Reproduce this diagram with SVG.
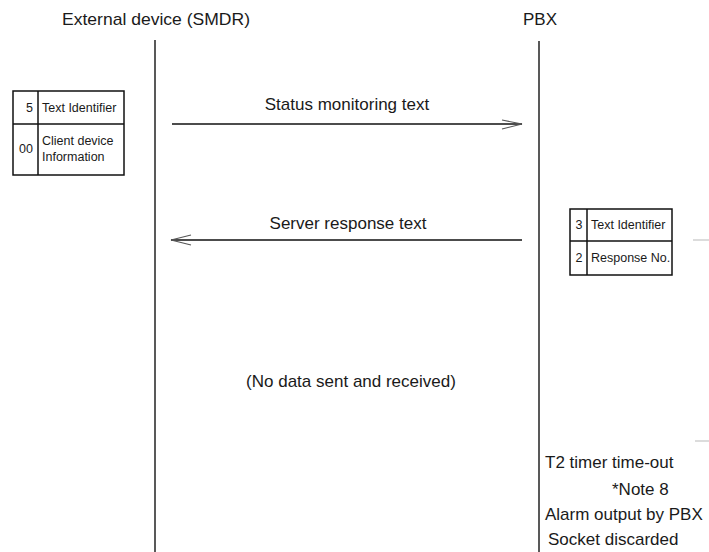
<svg xmlns="http://www.w3.org/2000/svg" width="709" height="552" viewBox="0 0 709 552">
  <style>
    text { font-family: "Liberation Sans", Arial, sans-serif; fill: #1a1a1a; }
    .head { font-size: 17px; }
    .lbl { font-size: 17px; }
    .cell { font-size: 12.5px; }
    .life { stroke: #222; stroke-width: 1.5; fill: none; }
    .msg { stroke: #111; stroke-width: 1.3; fill: none; }
    .tip { stroke: #555; stroke-width: 1.1; fill: none; }
    .box { stroke: #111; stroke-width: 1.5; fill: #fff; }
    .rule { stroke: #111; stroke-width: 1.5; }
    .tick { stroke: #d0d0d0; stroke-width: 1.5; }
  </style>

  <!-- participants -->
  <g id="external-device">
    <text class="head" x="156" y="25" text-anchor="middle" textLength="188" lengthAdjust="spacingAndGlyphs">External device (SMDR)</text>
    <line class="life" x1="155" y1="40" x2="155" y2="552"/>
  </g>
  <g id="pbx">
    <text class="head" x="540" y="25" text-anchor="middle">PBX</text>
    <line class="life" x1="539" y1="41" x2="539" y2="552"/>
  </g>

  <!-- field table sent with the status monitoring text -->
  <g id="client-fields">
    <rect class="box" x="13" y="91" width="111" height="84"/>
    <line class="rule" x1="38" y1="91" x2="38" y2="175"/>
    <line class="rule" x1="13" y1="124" x2="124" y2="124"/>
    <text class="cell" x="33" y="112" text-anchor="end">5</text>
    <text class="cell" x="42" y="112">Text Identifier</text>
    <text class="cell" x="33" y="153" text-anchor="end">00</text>
    <text class="cell" x="42" y="145">Client device</text>
    <text class="cell" x="42" y="161">Information</text>
  </g>

  <!-- field table returned with the server response text -->
  <g id="response-fields">
    <rect class="box" x="570" y="209" width="102" height="66"/>
    <line class="rule" x1="587" y1="209" x2="587" y2="275"/>
    <line class="rule" x1="570" y1="241" x2="672" y2="241"/>
    <text class="cell" x="579" y="229" text-anchor="middle">3</text>
    <text class="cell" x="591" y="229">Text Identifier</text>
    <text class="cell" x="579" y="262" text-anchor="middle">2</text>
    <text class="cell" x="591" y="262">Response No.</text>
  </g>

  <!-- messages -->
  <g id="connectors">
    <g id="status-monitoring">
      <line class="msg" x1="172" y1="124" x2="522" y2="124"/>
      <polyline class="tip" points="502,120 522,124 502,129"/>
    </g>
    <g id="server-response">
      <line class="msg" x1="171" y1="240" x2="522" y2="240"/>
      <polyline class="tip" points="191,235 171,240 191,245"/>
    </g>
  </g>

  <g id="message-labels">
    <text class="lbl" x="347" y="110" text-anchor="middle">Status monitoring text</text>
    <text class="lbl" x="348" y="229" text-anchor="middle">Server response text</text>
    <text class="lbl" x="351" y="387" text-anchor="middle">(No data sent and received)</text>
  </g>

  <!-- timeout notes on the PBX side -->
  <g id="timeout-notes">
    <text class="lbl" x="545" y="468">T2 timer time-out</text>
    <text class="lbl" x="612" y="495">*Note 8</text>
    <text class="lbl" x="545" y="520">Alarm output by PBX</text>
    <text class="lbl" x="548" y="545">Socket discarded</text>
  </g>

  <!-- faint edge ticks -->
  <g id="edge-ticks">
    <line class="tick" x1="693" y1="240" x2="709" y2="240"/>
    <line class="tick" x1="695" y1="441" x2="709" y2="441"/>
  </g>
</svg>
